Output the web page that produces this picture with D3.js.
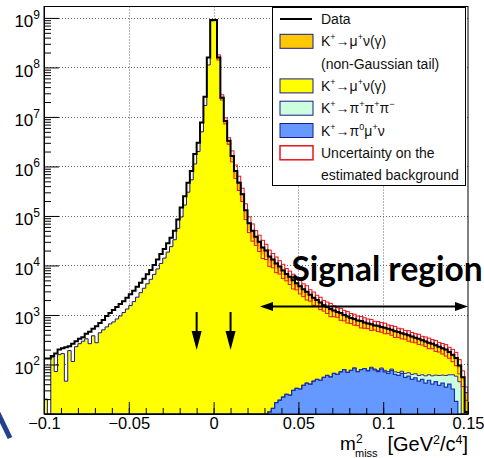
<!DOCTYPE html>
<html>
<head>
<meta charset="utf-8">
<script src="https://cdn.jsdelivr.net/npm/d3@7"></script>
<style>
body { margin: 0; background: #fff; }
svg { display: block; font-family: "Liberation Sans", Arial, sans-serif; }
</style>
</head>
<body>
<svg id="main" width="484" height="458"></svg>
<script>
// 125 bins of 0.002 GeV^2/c^4 from -0.1 to 0.15
var xmin = -0.1, binw = 0.002, nbins = 125;

var data = [
 132,132,148,166,200,214,224,234,263,295,
 331,355,417,457,525,589,692,794,955,1100,
 1260,1450,1660,1900,2240,2630,3090,3720,4470,5370,
 6610,8130,10200,13200,17000,21400,28200,36300,50100,85100,
 1.48e5,2.51e5,4.68e5,8.13e5,1.78e6,3.02e6,7.76e6,2.57e7,1.58e8,9.1e8,
 9.1e8,1.58e8,2.45e7,8.3e6,3.3e6,1.62e6,8.1e5,4.7e5,2.75e5,1.3e5,
 7.1e4,5.0e4,3.8e4,3.0e4,2.3e4,2.0e4,1.51e4,1.32e4,1.1e4,9550,
 7940,6760,5890,5010,4370,3800,3310,2950,2570,2240,
 2000,1780,1580,1450,1320,1230,1150,1090,1000,933,
 871,832,776,752,708,676,646,610,603,575,
 550,525,501,468,452,427,407,389,368,347,
 331,309,290,275,263,245,229,214,200,178,
 158,135,95,55,11];

// K+ -> mu+ nu (gamma)
var kmunu = [
 20,3,141,72,158,166,46,191,115,229,
 263,295,331,263,380,275,437,501,575,661,
 724,832,955,1120,1320,1550,1860,2290,2820,3470,
 4270,5250,6610,8510,11000,14100,18600,24000,33100,56200,
 95500,1.66e5,3.02e5,5.37e5,1.12e6,2.0e6,5.0e6,1.7e7,1.12e8,8.7e8,
 8.8e8,1.47e8,2.25e7,7.4e6,2.8e6,1.32e6,6.15e5,3.36e5,1.96e5,9.1e4,
 5.0e4,3.5e4,2.66e4,2.16e4,1.66e4,1.5e4,11240,9890,8560,7470,
 6380,5410,4700,4070,3580,3160,2760,2470,2170,1900,
 1710,1520,1350,1230,1130,1040,972,892,831,777,
 716,670,646,602,570,550,510,489,476,444,
 430,411,379,361,342,320,308,290,271,254,
 245,222,212,191,183,164,151,136,124,102,
 80,63,40,47,0];

// K+ -> mu+ nu (gamma), non-Gaussian tail
var kmunuTail = [
 0,0,0,0,0,0,0,0,0,0,
 0,0,0,0,0,0,0,0,0,0,
 0,0,0,0,0,0,0,0,0,0,
 0,0,0,0,0,0,0,0,0,0,
 0,0,0,0,0,0,0,0,0,0,
 0,1.3e7,2.5e6,1.0e6,5.0e5,3.3e5,2.05e5,1.44e5,8.4e4,3.9e4,
 2.1e4,1.5e4,1.14e4,8400,6400,5000,3750,3300,2420,2110,
 1600,1360,1180,900,790,610,500,440,360,290,
 240,214,174,160,132,123,115,107,90,84,
 78,75,62,59,57,54,52,50,48,46,
 44,42,40,38,36,34,33,31,29,28,
 26,25,24,22,21,20,18,17,16,14,
 16,14,10,8,27];

// K+ -> pi+ pi+ pi-
var k3pi = [
 0,0,0,0,0,0,0,0,0,0,
 0,0,0,0,0,0,0,0,0,0,
 0,0,0,0,0,0,0,0,0,0,
 0,0,0,0,0,0,0,0,0,0,
 0,0,0,0,0,0,0,0,0,0,
 0,0,0,0,0,0,0,0,0,0,
 0,0,0,0,0,0,0,0,0,0,
 0,0,0,0,0,0,0,0,0,0,
 0,0,0,0,0,0,0,0,0,0,
 0,0,0,0,0,2,3,3,4,4,
 5,6,5,8,9,7,11,10,13,11,
 14,12,17,14,19,16,22,19,25,22,
 30,40,45,0,0];

// K+ -> pi0 mu+ nu
var pi0munu = [
 0,0,0,0,0,0,0,0,0,0,
 0,0,0,0,0,0,0,0,0,0,
 0,0,0,0,0,0,0,0,0,0,
 0,0,0,0,0,0,0,0,0,0,
 0,0,0,0,0,0,0,0,0,0,
 0,0,0,0,0,0,0,0,0,0,
 0,0,0,0,0,0,11,13,17,19,
 22,25,24,30,33,32,38,42,40,46,
 50,48,55,60,56,66,63,71,79,69,
 76,85,72,79,83,74,85,78,72,81,
 71,66,76,63,60,66,55,58,50,54,
 46,50,42,48,40,45,38,42,35,40,
 32,18,0,0,0];

// relative uncertainty on the estimated background (red boxes)
var bkgErr = [
 0,0,0,0,0,0,0,0,0,0,
 0,0,0,0,0,0,0,0,0,0,
 0,0,0,0,0,0,0,0,0,0,
 0,0,0,0,0,0,0,0,0,0,
 0,0,0,0,0,0,0,0,0,0,
 0,0.12,0.12,0.14,0.15,0.25,0.3,0.32,0.3,0.35,
 0.35,0.38,0.33,0.36,0.4,0.34,0.36,0.32,0.35,0.3,
 0.32,0.28,0.3,0.33,0.27,0.3,0.29,0.32,0.26,0.3,
 0.25,0.28,0.24,0.26,0.3,0.25,0.22,0.27,0.24,0.26,
 0.23,0.25,0.22,0.26,0.24,0.22,0.25,0.2,0.23,0.22,
 0.24,0.2,0.22,0.25,0.21,0.23,0.2,0.24,0.22,0.21,
 0.23,0.2,0.22,0.24,0.21,0.25,0.22,0.24,0.26,0.25,
 0.28,0.3,0.32,0.35,0.3];

var xTicks = [-0.1, -0.05, 0, 0.05, 0.1, 0.15];
var xTickLabels = ["\u22120.1", "\u22120.05", "0", "0.05", "0.1", "0.15"];
var yDecades = [2, 3, 4, 5, 6, 7, 8, 9];
var arrowMarks = [-0.01, 0.01];

var legendLabels = [
 [["Data"]],
 [["K"], ["+", 1], ["\u2192\u03bc"], ["+", 1], ["\u03bd(\u03b3)"]],
 [["(non-Gaussian tail)"]],
 [["K"], ["+", 1], ["\u2192\u03bc"], ["+", 1], ["\u03bd(\u03b3)"]],
 [["K"], ["+", 1], ["\u2192\u03c0"], ["+", 1], ["\u03c0"], ["+", 1], ["\u03c0"], ["\u2212", 1]],
 [["K"], ["+", 1], ["\u2192\u03c0"], ["0", 1], ["\u03bc"], ["+", 1], ["\u03bd"]],
 [["Uncertainty on the"]],
 [["estimated background"]]
];
var legendKeys = ["line", "tail", "", "kmunu", "k3pi", "pi0munu", "err", ""];

var colors = {
 tail: "#ffc800", kmunu: "#ffff00", k3pi: "#ccffdd", pi0munu: "#6699ff",
 outline: "#1a1a8c", err: "#e8141c"
};

var svg = d3.select("#main");
var pLeft = 44, pRight = 468, pTop = 6.5, pBottom = 414;

var x = d3.scaleLinear().domain([-0.1, 0.15]).range([pLeft, pRight]);
var y = d3.scaleLog().domain([10, 1.7e9]).range([pBottom, pTop]).clamp(true);

function edge(i) { return xmin + i * binw; }
function yv(v) { return y(Math.max(v, 1)); }

function stepLine(vals) {
	var p = "";
	vals.forEach(function(v, i) {
		var yy = yv(v);
		p += (i ? "L" : "M") + x(edge(i)) + "," + yy + "L" + x(edge(i + 1)) + "," + yy;
	});
	return p;
}
function stepArea(vals) {
	return "M" + x(edge(0)) + "," + pBottom + stepLine(vals).replace(/^M/, "L") +
		"L" + x(edge(nbins)) + "," + pBottom + "Z";
}

// stacked sums
var c1 = pi0munu.slice();
var c2 = c1.map(function(v, i) { return v + k3pi[i]; });
var c3 = c2.map(function(v, i) { return v + kmunu[i]; });
var c4 = c3.map(function(v, i) { return v + kmunuTail[i]; });

svg.append("clipPath").attr("id", "plotclip")
	.append("rect").attr("x", pLeft).attr("y", pTop).attr("width", pRight - pLeft).attr("height", pBottom - pTop);

// grid
var grid = svg.append("g").attr("stroke", "#666").attr("stroke-width", 1).attr("stroke-dasharray", "1,2");
yDecades.forEach(function(d) {
	var yy = Math.round(y(Math.pow(10, d))) + 0.5;
	grid.append("line").attr("x1", pLeft).attr("x2", pRight).attr("y1", yy).attr("y2", yy);
});
xTicks.slice(1, -1).forEach(function(t) {
	var xx = Math.round(x(t)) + 0.5;
	grid.append("line").attr("x1", xx).attr("x2", xx).attr("y1", pTop).attr("y2", pBottom);
});

var plot = svg.append("g").attr("clip-path", "url(#plotclip)");

// stack fills
plot.append("path").attr("d", stepArea(c4)).attr("fill", colors.tail);
plot.append("path").attr("d", stepArea(c3)).attr("fill", colors.kmunu);
plot.append("path").attr("d", stepArea(c2)).attr("fill", colors.k3pi);
plot.append("path").attr("d", stepArea(c1)).attr("fill", colors.pi0munu);

// outlines
plot.append("path").attr("d", stepLine(c2)).attr("fill", "none").attr("stroke", "#2a2a9c").attr("stroke-width", 1);
plot.append("path").attr("d", stepLine(c1)).attr("fill", "none").attr("stroke", "#1530b0").attr("stroke-width", 1.2);
plot.append("path").attr("d", stepLine(c4)).attr("fill", "none").attr("stroke", colors.outline).attr("stroke-width", 1);

// uncertainty boxes
bkgErr.forEach(function(e, i) {
	if (!e) return;
	var y1 = yv(c4[i] * (1 + e)), y2 = yv(c4[i] * (1 - e));
	plot.append("rect")
		.attr("x", x(edge(i))).attr("width", x(edge(i + 1)) - x(edge(i)))
		.attr("y", y1).attr("height", y2 - y1)
		.attr("fill", "none").attr("stroke", colors.err).attr("stroke-width", 1);
});

// data
plot.append("path").attr("d", stepLine(data)).attr("fill", "none")
	.attr("stroke", "#000").attr("stroke-width", 2);

// axes
var fontFam = "Liberation Sans, Arial, sans-serif";
var yMinor = [];
for (var d = 1; d <= 9; d++) {
	for (var m = 2; m <= 9; m++) {
		if (m * Math.pow(10, d) < 1.7e9) yMinor.push(m * Math.pow(10, d));
	}
}
var gyMinor = svg.append("g").attr("transform", "translate(" + pLeft + ",0)")
	.call(d3.axisLeft(y).tickValues(yMinor).tickSize(-7).tickSizeOuter(0).tickFormat(""));
gyMinor.select(".domain").remove();
var gy = svg.append("g").attr("transform", "translate(" + pLeft + ",0)")
	.call(d3.axisLeft(y).tickValues(yDecades.map(function(d) { return Math.pow(10, d); }))
		.tickSize(-15).tickSizeOuter(0).tickFormat(""));

yDecades.forEach(function(d) {
	var t = svg.append("text").attr("x", 40).attr("y", y(Math.pow(10, d)) + 9.5)
		.attr("text-anchor", "end").attr("font-size", 17).attr("fill", "#000").text("10");
	t.append("tspan").attr("font-size", 12).attr("dy", -8.5).text(d);
});

var xMinor = d3.range(0, 26).map(function(i) { return -0.1 + i * 0.01; });
var gxMinor = svg.append("g").attr("transform", "translate(0," + pBottom + ")")
	.call(d3.axisBottom(x).tickValues(xMinor).tickSize(-6).tickSizeOuter(0).tickFormat(""));
gxMinor.select(".domain").remove();
var gx = svg.append("g").attr("transform", "translate(0," + pBottom + ")")
	.call(d3.axisBottom(x).tickValues(xTicks).tickSize(-12).tickSizeOuter(0).tickPadding(3)
		.tickFormat(function(d, i) { return xTickLabels[i]; }));
gx.attr("font-size", 16.5).attr("font-family", fontFam);
gx.selectAll("text").attr("fill", "#000");
svg.selectAll(".tick line").attr("stroke", "#000");

// frame
svg.append("rect").attr("x", pLeft).attr("y", pTop).attr("width", pRight - pLeft).attr("height", pBottom - pTop)
	.attr("fill", "none").attr("stroke", "#000").attr("stroke-width", 1);

// axis title
svg.append("text").attr("x", 340).attr("y", 450).attr("font-size", 19).text("m");
svg.append("text").attr("x", 356).attr("y", 443).attr("font-size", 12).text("2");
svg.append("text").attr("x", 355).attr("y", 457).attr("font-size", 11).text("miss");
var xt = svg.append("text").attr("x", 468).attr("y", 451).attr("text-anchor", "end").attr("font-size", 20);
xt.append("tspan").text("[GeV");
xt.append("tspan").attr("font-size", 12.5).attr("dy", -7).text("2");
xt.append("tspan").attr("dy", 7).text("/c");
xt.append("tspan").attr("font-size", 12.5).attr("dy", -7).text("4");
xt.append("tspan").attr("dy", 7).text("]");

// legend
var lg = svg.append("g");
lg.append("rect").attr("x", 272.5).attr("y", 7.5).attr("width", 193).attr("height", 178)
	.attr("fill", "#fff").attr("stroke", "#000").attr("stroke-width", 1);
legendLabels.forEach(function(parts, i) {
	var cy = 19 + i * 22.3;
	var key = legendKeys[i];
	if (key === "line") {
		lg.append("line").attr("x1", 280).attr("x2", 312).attr("y1", cy).attr("y2", cy)
			.attr("stroke", "#000").attr("stroke-width", 2);
	} else if (key === "err") {
		lg.append("rect").attr("x", 280).attr("y", cy - 7).attr("width", 33).attr("height", 14)
			.attr("fill", "none").attr("stroke", colors.err).attr("stroke-width", 1.5);
	} else if (key) {
		lg.append("rect").attr("x", 280).attr("y", cy - 7).attr("width", 33).attr("height", 14)
			.attr("fill", colors[key]).attr("stroke", colors.outline).attr("stroke-width", 1);
	}
	var t = lg.append("text").attr("x", 321).attr("y", cy + 5).attr("font-size", 14).attr("fill", "#111");
	var shift = 0;
	parts.forEach(function(p) {
		var sup = p[1] === 1;
		var target = sup ? -6 : 0;
		t.append("tspan").attr("font-size", sup ? 9 : 14).attr("dy", target - shift).text(p[0]);
		shift = target;
	});
});

// annotations
var ann = svg.append("g").attr("fill", "#000").attr("stroke", "#000");
arrowMarks.forEach(function(m) {
	var ax = x(m);
	ann.append("line").attr("x1", ax).attr("x2", ax).attr("y1", 312).attr("y2", 336).attr("stroke-width", 2);
	ann.append("path").attr("stroke", "none")
		.attr("d", "M" + (ax - 5) + ",331L" + (ax + 5) + ",331L" + ax + ",350Z");
});
var ay = 306.5, ax1 = 260, ax2 = x(0.15);
ann.append("line").attr("x1", ax1 + 8).attr("x2", ax2 - 8).attr("y1", ay).attr("y2", ay).attr("stroke-width", 2);
ann.append("path").attr("stroke", "none")
	.attr("d", "M" + ax1 + "," + ay + "L" + (ax1 + 13) + "," + (ay - 4.5) + "L" + (ax1 + 13) + "," + (ay + 4.5) + "Z");
ann.append("path").attr("stroke", "none")
	.attr("d", "M" + ax2 + "," + ay + "L" + (ax2 - 13) + "," + (ay - 4.5) + "L" + (ax2 - 13) + "," + (ay + 4.5) + "Z");

svg.append("text").attr("x", 291.5).attr("y", 281).attr("font-family", "Lato, 'Open Sans', sans-serif")
	.attr("font-weight", "bold").attr("font-size", 33.5).attr("fill", "#000").text("Signal region");

// slide decoration at lower left
svg.append("line").attr("x1", -3).attr("y1", 411).attr("x2", 10).attr("y2", 438)
	.attr("stroke", "#22408c").attr("stroke-width", 5);
</script>
</body>
</html>
